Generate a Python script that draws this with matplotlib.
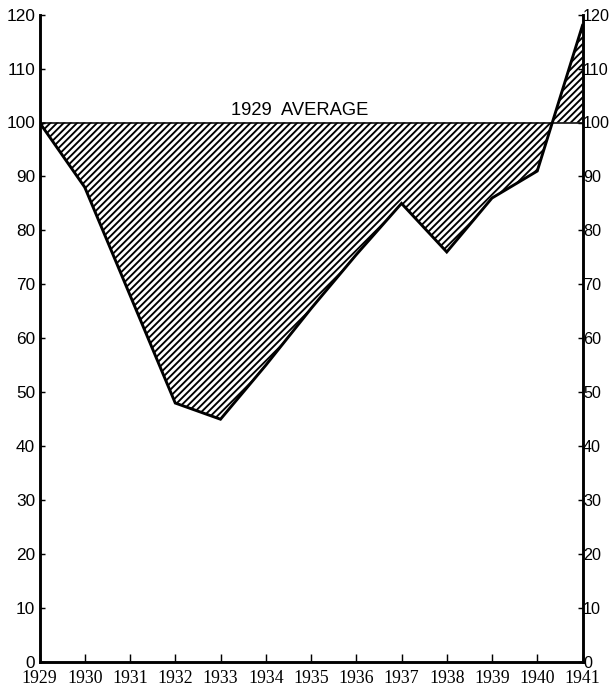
import matplotlib
matplotlib.use("Agg")
import matplotlib.pyplot as plt

# Data (index, 1929 average = 100)
years = [1929, 1930, 1931, 1932, 1933, 1934, 1935, 1936, 1937, 1938, 1939, 1940, 1941]
values = [100, 88, 68, 48, 45, 55, 65.5, 75.5, 85, 76, 86, 91, 118]
baseline = 100
yticks = list(range(0, 121, 10))
xtick_labels = [str(y) for y in years]
avg_label = "1929  AVERAGE"

DPI = 80
W, H = 609, 689
plt.rcParams['hatch.linewidth'] = 1.7
fig = plt.figure(figsize=(W / DPI, H / DPI), dpi=DPI)
ax = fig.add_axes([39.5 / W, 1 - 662 / H, (582.5 - 39.5) / W, (662 - 14.6) / H])

ax.fill_between(years, values, baseline, facecolor='none', edgecolor='black',
                hatch='////', linewidth=0)
ax.plot(years, values, color='black', linewidth=2.6, solid_joinstyle='miter')
ax.plot([years[0], years[-1]], [baseline, baseline], color='black', linewidth=1.4)

ax.text(1934.76, 101.3, avg_label, ha='center', va='baseline',
        fontsize=16.5, family='Liberation Sans')

ax.set_xlim(years[0], years[-1])
ax.set_ylim(0, 120)

for s in ['left', 'bottom']:
    ax.spines[s].set_linewidth(2.6)
ax.spines['top'].set_visible(False)
ax.spines['right'].set_visible(False)

ax.set_xticks(years)
ax.set_xticklabels(xtick_labels, family='Liberation Serif', fontsize=16)
ax.tick_params(axis='x', direction='in', length=7.5, width=1.3, pad=7.5)

ylab_font = 'Liberation Sans'
ax.set_yticks(yticks)
ax.set_yticklabels([str(v) for v in yticks], family=ylab_font, fontsize=15.5)
ax.tick_params(axis='y', direction='in', length=4.5, width=1.3, pad=4,
               right=False)

ax2 = ax.twinx()
ax2.set_ylim(0, 120)
ax2.set_yticks(yticks)
ax2.set_yticklabels([str(v) for v in yticks], family=ylab_font, fontsize=14.5)
ax2.tick_params(axis='y', direction='in', length=4.5, width=1.3, pad=0.5)
for s in ['left', 'top', 'bottom']:
    ax2.spines[s].set_visible(False)
ax2.spines['right'].set_linewidth(2.6)

fig.savefig("out.png", dpi=DPI)
